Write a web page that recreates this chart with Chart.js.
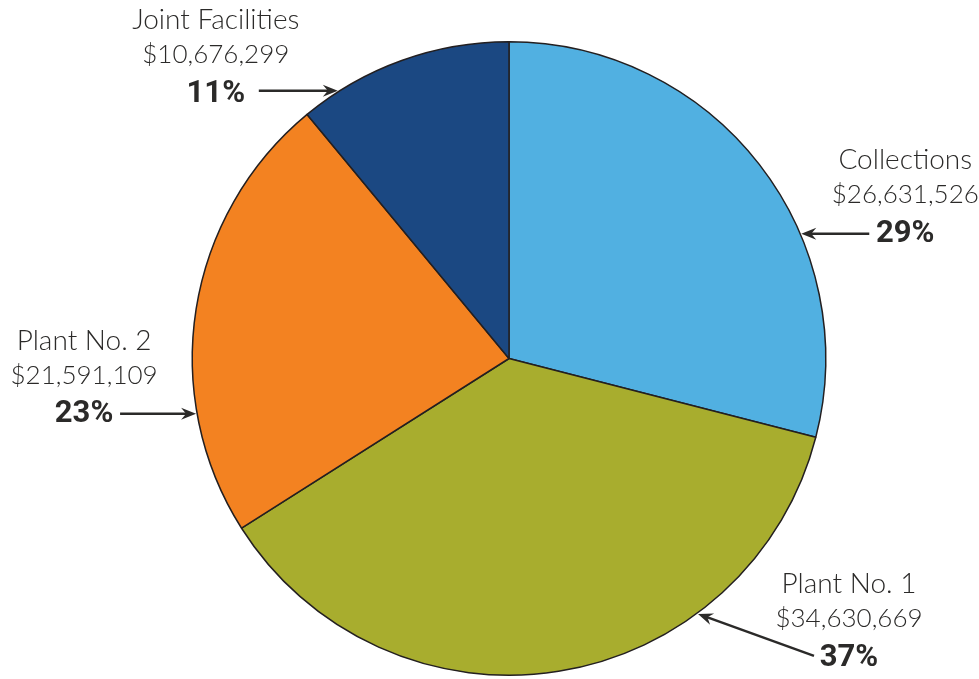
<!doctype html>
<html>
<head>
<meta charset="UTF-8">
<title>Budget by Area</title>
<script src="https://cdn.jsdelivr.net/npm/chart.js@4.4.1/dist/chart.umd.min.js"></script>
<style>
  html, body { margin: 0; padding: 0; background: #fff; }
  #wrap { width: 979px; height: 679px; position: relative; }
</style>
</head>
<body>
<div id="wrap"><canvas id="pie"></canvas></div>
<script>
// data (slices follow the rounded percentages)
var categories = ['Collections', 'Plant No. 1', 'Plant No. 2', 'Joint Facilities'];
var percents = [29, 37, 23, 11];
var amountLabels = ['$26,631,526', '$34,630,669', '$21,591,109', '$10,676,299'];
var colors = ['#51b0e1', '#a8ad2e', '#f38221', '#1b4882'];

// where each callout sits: arrow tip angle on the rim (deg, clockwise from top),
// arrow tail offset from the tip, and text block centre offset from the tail
var callouts = [
  { angle: 66.9,  tail: [68, 0],    text: [36, 0] },
  { angle: 143.5, tail: [116, 42],  text: [35, 2] },
  { angle: 260,   tail: [-76, 0],   text: [-36, 1] },
  { angle: 327.4, tail: [-79, 0],   text: [-43, 3] }
];

var TEXT = '#2b2a29';

function arrow(ctx, x1, y1, x2, y2) {
  var a = Math.atan2(y2 - y1, x2 - x1);
  var len = 15, half = 6;
  var bx = x2 - Math.cos(a) * len, by = y2 - Math.sin(a) * len;
  ctx.strokeStyle = TEXT;
  ctx.lineWidth = 2.5;
  ctx.beginPath();
  ctx.moveTo(x1, y1);
  ctx.lineTo(x2 - Math.cos(a) * 8, y2 - Math.sin(a) * 8);
  ctx.stroke();
  ctx.fillStyle = TEXT;
  ctx.beginPath();
  ctx.moveTo(x2, y2);
  ctx.lineTo(bx - Math.sin(a) * half, by + Math.cos(a) * half);
  ctx.lineTo(x2 - Math.cos(a) * 10, y2 - Math.sin(a) * 10);
  ctx.lineTo(bx + Math.sin(a) * half, by - Math.cos(a) * half);
  ctx.closePath();
  ctx.fill();
}

var calloutPlugin = {
  id: 'callouts',
  afterDraw: function(chart) {
    var ctx = chart.ctx;
    var arc = chart.getDatasetMeta(0).data[0];
    var cx = arc.x, cy = arc.y, r = arc.outerRadius;
    ctx.save();
    callouts.forEach(function(c, i) {
      var rad = c.angle * Math.PI / 180;
      var tx = cx + Math.sin(rad) * (r + 1), ty = cy - Math.cos(rad) * (r + 1);
      var sx = tx + c.tail[0], sy = ty + c.tail[1];
      arrow(ctx, sx, sy, tx, ty);
      var px = sx + c.text[0], py = sy + c.text[1];
      ctx.textAlign = 'center';
      ctx.textBaseline = 'middle';
      ctx.fillStyle = TEXT;
      ctx.font = 'bold 31px "Liberation Sans Narrow", "Roboto", sans-serif';
      ctx.fillText(percents[i] + '%', px, py);
      ctx.font = '300 26px Lato, sans-serif';
      ctx.fillText(amountLabels[i], px, py - 39);
      ctx.font = '300 28px Lato, sans-serif';
      ctx.fillText(categories[i], px, py - 74);
    });
    ctx.restore();
  }
};

new Chart(document.getElementById('pie'), {
  type: 'pie',
  data: {
    labels: categories,
    datasets: [{
      data: percents,
      backgroundColor: colors,
      borderColor: '#231f20',
      borderWidth: 1.5
    }]
  },
  options: {
    responsive: true,
    maintainAspectRatio: false,
    animation: false,
    events: [],
    layout: { padding: { top: 41, bottom: 3, left: 39, right: 0 } },
    plugins: {
      legend: { display: false },
      tooltip: { enabled: false }
    }
  },
  plugins: [calloutPlugin]
});
</script>
</body>
</html>
